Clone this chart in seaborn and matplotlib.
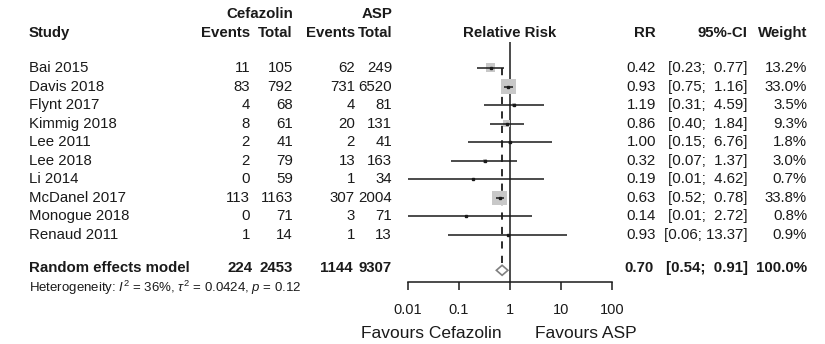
import numpy as np
import pandas as pd
import seaborn as sns
import matplotlib.pyplot as plt
from matplotlib import transforms
from matplotlib.patches import Polygon
from matplotlib.ticker import NullLocator

# ---- data ----
studies = ["Bai 2015", "Davis 2018", "Flynt 2017", "Kimmig 2018", "Lee 2011",
           "Lee 2018", "Li 2014", "McDanel 2017", "Monogue 2018", "Renaud 2011"]
cef_events = [11, 83, 4, 8, 2, 2, 0, 113, 0, 1]
cef_total = [105, 792, 68, 61, 41, 79, 59, 1163, 71, 14]
asp_events = [62, 731, 4, 20, 2, 13, 1, 307, 3, 1]
asp_total = [249, 6520, 81, 131, 41, 163, 34, 2004, 71, 13]
rr = [0.42, 0.93, 1.19, 0.86, 1.00, 0.32, 0.19, 0.63, 0.14, 0.93]
ci_lo = [0.23, 0.75, 0.31, 0.40, 0.15, 0.07, 0.0072, 0.52, 0.0072, 0.06]
ci_hi = [0.77, 1.16, 4.59, 1.84, 6.76, 1.37, 4.62, 0.78, 2.72, 13.37]
weight = [13.2, 33.0, 3.5, 9.3, 1.8, 3.0, 0.7, 33.8, 0.8, 0.9]

pooled_counts = [224, 2453, 1144, 9307]
pooled_rr, pooled_lo, pooled_hi = 0.70, 0.54, 0.91
pooled_weight = 100.0
het_text = r"Heterogeneity: $I^2$ = 36%, $\tau^2$ = 0.0424, $p$ = 0.12"

xticks = [0.01, 0.1, 1, 10, 100]
xtick_labels = ["0.01", "0.1", "1", "10", "100"]

df = pd.DataFrame(dict(study=studies, rr=rr, lo=ci_lo, hi=ci_hi,
                       weight=weight, row=np.arange(len(studies))))

# ---- style ----
sns.set_theme(style="white")
plt.rcParams["font.family"] = ["Liberation Sans", "DejaVu Sans"]
plt.rcParams["mathtext.fontset"] = "custom"
plt.rcParams["mathtext.rm"] = "Liberation Sans"
plt.rcParams["mathtext.it"] = "Liberation Sans:italic"
INK = "#1a1a1a"
FS = 10.8

W, H = 825, 344
fig = plt.figure(figsize=(W / 100, H / 100), dpi=100)
ax = fig.add_axes([408 / W, 0, 204 / W, 1])
ax.set_xscale("log")
ax.set_xlim(0.01, 100)
ax.set_ylim(14.87, -3.66)
ax.patch.set_visible(False)

pooled_row = 10.78
diamond_row = 10.9
axis_row = 11.54

# reference lines
ax.vlines(1, -1.4, axis_row, color=INK, lw=1.1, zorder=1)
ax.plot([pooled_rr, pooled_rr], [0, diamond_row - 0.3], color=INK, lw=1.3,
        dashes=(4, 4), zorder=1)

# weight squares, CI lines, point estimates
sns.scatterplot(data=df, x="rr", y="row", size="weight",
                sizes=(0, 3.24 * 33.8), size_norm=(0, 33.8), marker="s",
                color="#c8c8c8", edgecolor="none", linewidth=0,
                legend=False, ax=ax, zorder=2)
ax.hlines(df.row, df.lo, df.hi, color=INK, lw=1.1, zorder=3)
ax.plot(df.rr, df.row, marker="s", ms=2.1, ls="none", color=INK, zorder=4)

# pooled diamond
h = 0.27
diamond = Polygon([(pooled_lo, diamond_row), (pooled_rr, diamond_row - h),
                   (pooled_hi, diamond_row), (pooled_rr, diamond_row + h)],
                  closed=True, facecolor="white", edgecolor="#808080",
                  lw=1.2, zorder=3)
ax.add_patch(diamond)

# axis
for s in ["top", "left", "right"]:
    ax.spines[s].set_visible(False)
ax.spines["bottom"].set_position(("data", axis_row))
ax.spines["bottom"].set_bounds(0.01, 100)
ax.spines["bottom"].set_linewidth(1.1)
ax.spines["bottom"].set_color(INK)
ax.set_xticks(xticks, labels=xtick_labels)
ax.xaxis.set_minor_locator(NullLocator())
ax.tick_params(axis="x", which="major", direction="out", length=6, width=1.1,
               pad=9, labelsize=10.5, color=INK, labelcolor=INK, bottom=True)
ax.set_yticks([])
ax.set_xlabel("")
ax.set_ylabel("")

# ---- text columns ----
trans = transforms.blended_transform_factory(fig.transFigure, ax.transData)


def put(xp, row, s, ha="left", size=FS, weight="normal"):
    fig.text(xp / W, row, s, transform=trans, ha=ha, va="center",
             fontsize=size, color=INK, fontweight=weight)


def ci_str(lo, hi):
    hs = f"{hi:.2f}"
    return f"[{lo:.2f}; " + " " * (5 - len(hs)) + hs + "]"


hdr = -1.89
put(293, -2.91, "Cefazolin", "right", weight="bold")
put(392, -2.91, "ASP", "right", weight="bold")
put(29, hdr, "Study", weight="bold")
put(250, hdr, "Events", "right", weight="bold")
put(293, hdr, "Total", "right", weight="bold")
put(355, hdr, "Events", "right", weight="bold")
put(392, hdr, "Total", "right", weight="bold")
put(510, hdr, "Relative Risk", "center", weight="bold")
put(656, hdr, "RR", "right", weight="bold")
put(747, hdr, "95%-CI", "right", weight="bold")
put(807, hdr, "Weight", "right", weight="bold")

for i, r in df.iterrows():
    put(29, i, r.study)
    put(250, i, str(cef_events[i]), "right")
    put(293, i, str(cef_total[i]), "right")
    put(355, i, str(asp_events[i]), "right")
    put(392, i, str(asp_total[i]), "right")
    put(656, i, f"{r.rr:.2f}", "right")
    put(748, i, ci_str(r.lo, r.hi), "right")
    put(807, i, f"{r.weight:.1f}%", "right")

put(29, pooled_row, "Random effects model", weight="bold")
for xp, v in zip([253, 293, 353, 392], pooled_counts):
    put(xp, pooled_row, str(v), "right", weight="bold")
put(654, pooled_row, f"{pooled_rr:.2f}", "right", weight="bold")
put(748, pooled_row, ci_str(pooled_lo, pooled_hi), "right", weight="bold")
put(807, pooled_row, f"{pooled_weight:.1f}%", "right", weight="bold")

put(29, 11.84, het_text, size=9.5)

put(431, 14.3, "Favours Cefazolin", "center", size=12.5)
put(586, 14.3, "Favours ASP", "center", size=12.5)

fig.savefig("out.png", dpi=100)
